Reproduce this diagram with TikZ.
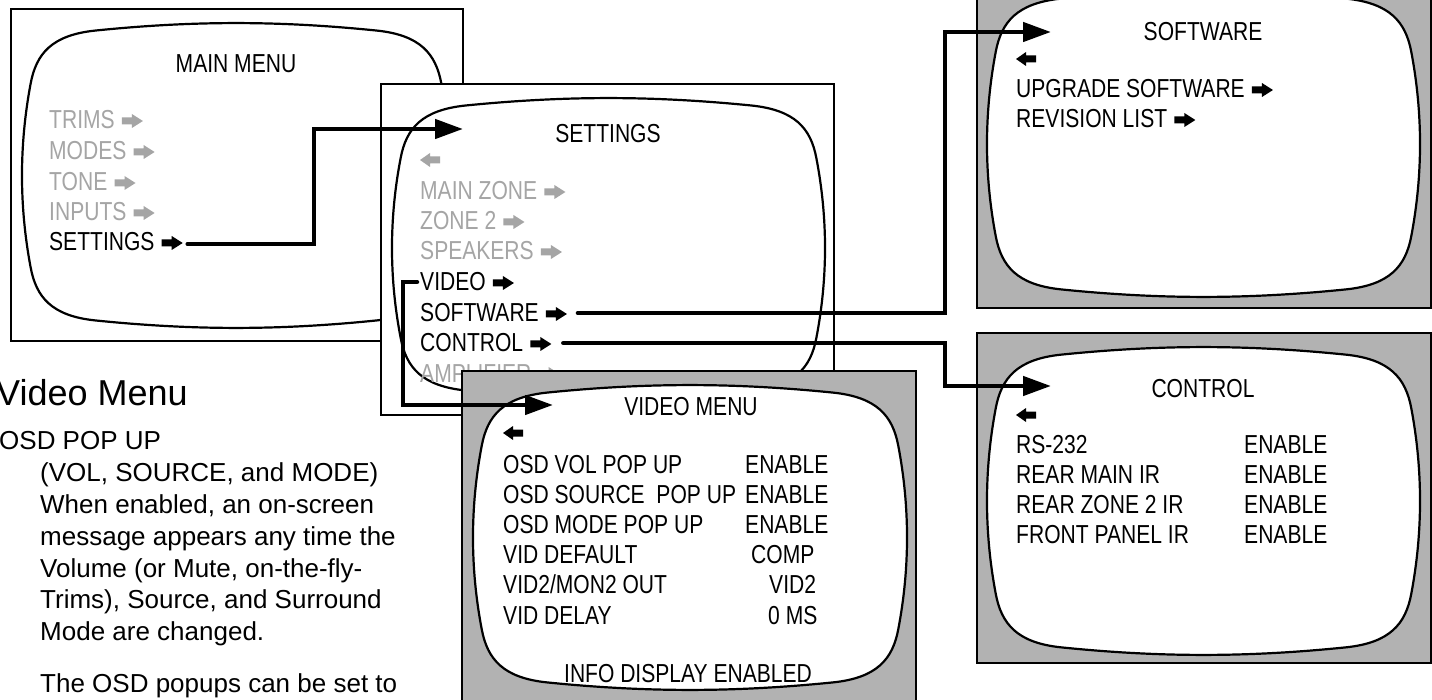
\documentclass[tikz,border=0pt]{standalone}
\usepackage{fontspec}
\setmainfont{Liberation Sans}
\newfontfamily\nar[FakeStretch=0.81]{Liberation Sans}
\usetikzlibrary{arrows.meta}
\definecolor{boxgray}{RGB}{178,178,178}
\definecolor{txtgray}{RGB}{165,165,165}
\tikzset{
  scr/.style={line width=2.2pt, fill=white},
  frame/.style={line width=1.8pt},
  mt/.style={font=\nar\fontsize{26}{30}\selectfont, anchor=base west, inner sep=0pt},
  ttl/.style={font=\nar\fontsize{26}{30}\selectfont, anchor=base, inner sep=0pt},
  body/.style={font=\fontsize{26}{31.8}\selectfont, anchor=base west, inner sep=0pt},
  conn/.style={line width=4.5pt, line cap=round, -{Triangle[length=28pt,width=19pt]}},
  rarr/.pic={\fill (0,-3.5) -- (10,-3.5) -- (10,-7) -- (21,0) -- (10,7) -- (10,3.5) -- (0,3.5) -- cycle;},
  larr/.pic={\fill (20,-3.5) -- (10,-3.5) -- (10,-7) -- (0,0) -- (10,7) -- (10,3.5) -- (20,3.5) -- cycle;},
}
% TV screen outline: x0, y0, width, height, extra options
\newcommand\tvscr[5]{%
  \draw[scr,#5,shift={(#1pt,-#2pt)},x=#3pt,y=-#4pt]
    (0.17,0.025) .. controls (0.4,-0.008) and (0.6,-0.008) .. (0.83,0.025)
    .. controls (0.93,0.04) and (0.967,0.1) .. (0.98,0.2)
    .. controls (1.0067,0.4) and (1.0067,0.6) .. (0.98,0.8)
    .. controls (0.967,0.9) and (0.93,0.96) .. (0.83,0.975)
    .. controls (0.6,1.008) and (0.4,1.008) .. (0.17,0.975)
    .. controls (0.07,0.96) and (0.033,0.9) .. (0.02,0.8)
    .. controls (-0.0067,0.6) and (-0.0067,0.4) .. (0.02,0.2)
    .. controls (0.033,0.1) and (0.07,0.04) .. cycle;}
% menu item with arrow: name, x, y, text, colour
\newcommand\mitem[5]{%
  \node[mt,text=#5] (#1) at (#2,#3) {#4};
  \pic[color=#5] at ([xshift=7pt,yshift=8pt]#1.base east) {rarr};}
\begin{document}
\begin{tikzpicture}[x=1pt,y=-1pt]
\useasboundingbox (0,0) rectangle (1432,700);
\clip (0,0) rectangle (1432,700);

% ---------- MAIN MENU ----------
\draw[frame,fill=white] (11,9) rectangle (463,341);
\tvscr{22}{23}{428}{305}{}
\node[ttl] (mainttl) at (236,73) {MAIN MENU};
\mitem{mtrims}{49}{129}{TRIMS}{txtgray}
\mitem{mmodes}{49}{160}{MODES}{txtgray}
\mitem{mtone}{49}{191}{TONE}{txtgray}
\mitem{minputs}{49}{221}{INPUTS}{txtgray}
\mitem{mset}{49}{251}{SETTINGS}{black}

% ---------- SETTINGS ----------
\draw[frame,fill=white] (381,84) rectangle (834,415);
\tvscr{392}{98}{433}{300}{}
\node[ttl] (setttl) at (608,143) {SETTINGS};
\pic[color=txtgray] at (420,160) {larr};
\mitem{smain}{420}{200}{MAIN ZONE}{txtgray}
\mitem{szone}{420}{230}{ZONE 2}{txtgray}
\mitem{sspk}{420}{260}{SPEAKERS}{txtgray}
\mitem{svid}{420}{291}{VIDEO}{black}
\mitem{ssoft}{420}{322}{SOFTWARE}{black}
\mitem{sctrl}{420}{352}{CONTROL}{black}
\mitem{samp}{420}{382}{AMPLIFIER}{txtgray}

% ---------- VIDEO MENU ----------
\draw[frame,fill=boxgray] (462,371) rectangle (916,712);
\tvscr{473}{385}{434}{305}{}
\node[ttl] (vidttl) at (691,415) {VIDEO MENU};
\pic at (503,433) {larr};
\node[mt] (v1) at (503,473) {OSD VOL POP UP};
\node[mt] (v2) at (503,503) {OSD SOURCE\ \ POP UP};
\node[mt] (v3) at (503,533) {OSD MODE POP UP};
\node[mt] (v4) at (503,563) {VID DEFAULT};
\node[mt] (v5) at (503,593) {VID2/MON2 OUT};
\node[mt] (v6) at (503,624) {VID DELAY};
\node[mt] (w1) at (745,473) {ENABLE};
\node[mt] (w2) at (745,503) {ENABLE};
\node[mt] (w3) at (745,533) {ENABLE};
\node[mt] (w4) at (751,563) {COMP};
\node[mt] (w5) at (769,593) {VID2};
\node[mt] (w6) at (768,624) {0 MS};
\node[ttl] (info) at (688,682) {INFO DISPLAY ENABLED};

% ---------- SOFTWARE ----------
\draw[frame,fill=boxgray] (977,-25) rectangle (1431,308);
\tvscr{987}{-9}{433}{306}{}
\node[ttl] (swttl) at (1203,41) {SOFTWARE};
\pic at (1016,59) {larr};
\mitem{swup}{1016}{98}{UPGRADE SOFTWARE}{black}
\mitem{swrev}{1016}{128}{REVISION LIST}{black}

% ---------- CONTROL ----------
\draw[frame,fill=boxgray] (977,333) rectangle (1431,663);
\tvscr{987}{347}{433}{308}{}
\node[ttl] (ctlttl) at (1203,397) {CONTROL};
\pic at (1016,415) {larr};
\node[mt] (c1) at (1016,453) {RS-232};
\node[mt] (c2) at (1016,483) {REAR MAIN IR};
\node[mt] (c3) at (1016,513) {REAR ZONE 2 IR};
\node[mt] (c4) at (1016,543) {FRONT PANEL IR};
\node[mt] (d1) at (1244,453) {ENABLE};
\node[mt] (d2) at (1244,483) {ENABLE};
\node[mt] (d3) at (1244,513) {ENABLE};
\node[mt] (d4) at (1244,543) {ENABLE};

% ---------- connectors ----------
\coordinate (a1) at ([xshift=33pt,yshift=7pt]mset.base east);
\coordinate (a1x) at (314,190);
\coordinate (a1e) at (463,129);
\draw[conn] (a1) -| (a1x) |- (a1e);

\coordinate (b1) at ([xshift=-3pt,yshift=9pt]svid.base west);
\coordinate (b1x) at (403,340);
\coordinate (b1e) at (553,405);
\draw[conn] (b1) -| (b1x) |- (b1e);

\coordinate (c1s) at ([xshift=39pt,yshift=9pt]ssoft.base east);
\coordinate (c1x) at (945,170);
\coordinate (c1e) at (1051,32);
\draw[conn] (c1s) -| (c1x) |- (c1e);

\coordinate (d1s) at ([xshift=40pt,yshift=9pt]sctrl.base east);
\coordinate (d1x) at (945,365);
\coordinate (d1e) at (1051,386);
\draw[conn] (d1s) -| (d1x) |- (d1e);

% ---------- text on the left ----------
\node[body,font=\fontsize{36}{40}\selectfont] (vmenu) at (-4,406) {Video Menu};
\node[body] (osd) at (-1,449) {OSD POP UP};
\node[body] (t1) at (40,481) {(VOL, SOURCE, and MODE)};
\node[body] (t2) at (40,513) {When enabled, an on-screen};
\node[body] (t3) at (40,545) {message appears any time the};
\node[body] (t4) at (40,577) {Volume (or Mute, on-the-fly-};
\node[body] (t5) at (40,608) {Trims), Source, and Surround};
\node[body] (t6) at (40,640) {Mode are changed.};
\node[body] (t7) at (40,692) {The OSD popups can be set to};
\end{tikzpicture}
\end{document}
